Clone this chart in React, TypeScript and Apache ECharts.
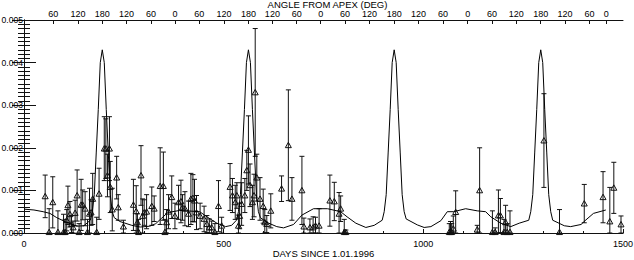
import { useEffect, useRef } from 'react';
import * as echarts from 'echarts';

// Bottom axis (days)
const xMin = 0;
const xMax = 1500;
const xInterval = 500;
// Left axis
const yMin = 0;
const yMax = 0.005;
const yInterval = 0.001;

// Top axis: angle from apex, tick positions in days and their labels
const topTickDays = [73, 135, 196, 257, 318, 378, 439, 501, 562, 622, 683, 743, 804, 865, 927, 988, 1049, 1111, 1172, 1233, 1294, 1355, 1416, 1458];
const topTickLabels = ['60', '120', '180', '120', '60', '0', '60', '120', '180', '120', '60', '0', '60', '120', '180', '120', '60', '0', '60', '120', '180', '120', '60', '0'];

// Model curve
const modelDays = [
  0, 25, 48, 65, 82, 107, 132, 150,
  166, 171, 176, 181, 186, 191, 196, 201, 206, 211, 216, 221, 226,
  240, 270, 291, 315, 330, 345, 360, 390, 440, 458, 483, 505, 520,
  532, 537, 542, 547, 552, 557, 562, 567, 572, 577, 582, 587, 592,
  608, 633, 650, 675, 696, 725, 760, 793, 809, 831, 856, 877,
  897, 902, 907, 912, 917, 922, 927, 932, 937, 942, 947, 952, 957,
  985, 1002, 1019, 1044, 1060, 1076, 1106, 1135, 1156, 1169, 1194, 1219, 1240,
  1264, 1269, 1274, 1279, 1284, 1289, 1294, 1299, 1304, 1309, 1314, 1319, 1324,
  1353, 1369, 1395, 1405, 1426, 1457,
];
const modelValues = [
  0.00056, 0.00054, 0.0005, 0.00046, 0.00036, 0.00025, 0.00016, 0.00017,
  0.0003, 0.0005, 0.0009, 0.0019, 0.0029, 0.004, 0.0043, 0.004, 0.0029, 0.0019, 0.0009, 0.0005, 0.00036,
  0.00027, 0.00018, 0.00014, 0.00016, 0.00022, 0.00035, 0.00048, 0.00053, 0.0005, 0.00038, 0.00023, 0.00015, 0.00018,
  0.0003, 0.0005, 0.0009, 0.0019, 0.0029, 0.004, 0.0043, 0.004, 0.0029, 0.0019, 0.0009, 0.0005, 0.00036,
  0.00025, 0.00015, 0.00012, 0.0002, 0.00042, 0.00057, 0.00057, 0.0005, 0.00038, 0.00023, 0.00013, 0.00018,
  0.0003, 0.0005, 0.0009, 0.0019, 0.0029, 0.004, 0.0043, 0.004, 0.0029, 0.0019, 0.0009, 0.0005, 0.00033,
  0.00019, 0.00013, 0.00015, 0.00029, 0.0005, 0.0005, 0.00057, 0.00052, 0.0005, 0.00038, 0.00023, 0.00015, 0.00023,
  0.0003, 0.0005, 0.0009, 0.0019, 0.0029, 0.004, 0.0043, 0.004, 0.0029, 0.0019, 0.0009, 0.0005, 0.0003,
  0.00017, 0.00015, 0.0002, 0.00029, 0.00046, 0.00054,
];

// Observations with error bars
const obsDays = [
  53, 63, 72, 85, 99, 103, 107, 110, 115, 119, 123, 128, 133, 138, 143, 147, 153, 159, 164, 168,
  172, 182, 188, 201, 205, 209, 214, 216, 221, 232, 236, 249, 274, 281, 284, 287, 293, 297, 301, 307,
  320, 326, 341, 349, 353, 357, 362, 370, 378, 387, 393, 397, 403, 412, 418, 423, 427, 432, 441, 451,
  458, 464, 470, 478, 487, 495, 516, 522, 529, 533, 537, 540, 545, 553, 558, 562, 566, 572, 576, 579,
  583, 591, 599, 603, 608, 618, 645, 662, 671, 696, 701, 716, 724, 730, 739, 766, 777, 789, 793, 802,
  806, 1065, 1068, 1071, 1075, 1081, 1135, 1141, 1173, 1180, 1188, 1193, 1202, 1206, 1210, 1217, 1302, 1341, 1403, 1450,
  1467, 1477, 1495,
];
const obsValues = [
  0.00086, 0.00002, 0.00072, 0.00002, 0.00002, 0.00002, 0.0003, 0.00065, 0.00044, 0.00021, 0.00013, 0.00047, 0.00088, 0.00002, 0.00066, 0.00066, 0.00057, 0.00002, 0.00045, 0.00048,
  0.0008, 0.00002, 0.00092, 0.00198, 0.00198, 0.00135, 0.00198, 0.00108, 0.00055, 0.0013, 0.0006, 0.00015, 0.00066, 0.00051, 0.00025, 0.00002, 0.00135, 0.0004, 0.00048, 0.0005,
  0.00063, 0.00057, 0.0011, 0.0011, 0.00002, 0.00025, 0.0005, 0.00084, 0.0004, 0.00072, 0.00074, 0.0006, 0.00057, 0.00045, 0.0008, 0.00082, 0.00076, 0.00048, 0.0004, 0.00033,
  0.00021, 0.00013, 0.00013, 0.00002, 0.00063, 0.00017, 0.00108, 0.00088, 0.00072, 0.00088, 0.00017, 0.0004, 0.00068, 0.00088, 0.00147, 0.00195, 0.00112, 0.00072, 0.00088, 0.0033,
  0.0013, 0.0008, 0.00063, 0.00025, 0.00021, 0.00052, 0.00104, 0.00206, 0.0008, 0.001, 0.00015, 0.00013, 0.00013, 0.00017, 0.00017, 0.00076, 0.00074, 0.00045, 0.00057, 0.00002,
  0.00002, 0.00002, 0.00002, 0.00002, 0.0001, 0.00049, 0.00008, 0.001, 0.00002, 0.00002, 0.00041, 0.00041, 0.00002, 0.00025, 0.00002, 0.00002, 0.00217, 0.00002, 0.00069, 0.00084,
  0.00027, 0.00106, 0.0002,
];
const obsErrors = [
  0.0005, 0.00055, 0.0006, 0.0005, 0.00042, 0.0003, 0.00025, 0.00045, 0.0003, 0.0002, 0.00015, 0.0003, 0.0006, 0.0002, 0.0006, 0.00035, 0.0004, 0.0003, 0.0006, 0.0003,
  0.0006, 0.00035, 0.0006, 0.00075, 0.0007, 0.0005, 0.00075, 0.0006, 0.0005, 0.0005, 0.0003, 0.00015, 0.0006, 0.0006, 0.0002, 0.0003, 0.0007, 0.0004, 0.0003, 0.0004,
  0.00045, 0.0003, 0.0009, 0.0008, 0.0003, 0.0003, 0.0004, 0.0005, 0.0003, 0.0004, 0.0005, 0.0003, 0.0004, 0.0003, 0.0006, 0.00055, 0.0005, 0.0004, 0.0003, 0.0003,
  0.0002, 0.0002, 0.00015, 0.0002, 0.0006, 0.0002, 0.00055, 0.0004, 0.0004, 0.0003, 0.00025, 0.0003, 0.0005, 0.0004, 0.00047, 0.0008, 0.0005, 0.0004, 0.0005, 0.0015,
  0.00055, 0.0005, 0.0004, 0.0003, 0.0002, 0.0004, 0.0003, 0.0013, 0.0005, 0.0008, 0.0002, 0.0002, 0.00025, 0.0002, 0.0004, 0.0006, 0.00045, 0.0005, 0.0003, 0.0003,
  0.00005, 0.0002, 0.00025, 0.0002, 0.0003, 0.0005, 0.0001, 0.001, 0.0005, 0.0001, 0.0006, 0.0004, 0.0003, 0.0004, 0.0002, 0.0005, 0.0011, 0.00053, 0.00045, 0.0006,
  0.0008, 0.0006, 0.0002,
];

const FONT = 'Liberation Sans';
const INK = '#111';

export default function App() {
  const ref = useRef<HTMLDivElement>(null);
  useEffect(() => {
    document.body.style.margin = '0';
    const chart = echarts.init(ref.current!, null, { renderer: 'svg' });
    const axisText = { color: '#000', fontFamily: FONT, fontSize: 9 };
    chart.setOption({
      animation: false,
      backgroundColor: '#fff',
      grid: { left: 24, right: 11, top: 20, bottom: 27, containLabel: false, outerBoundsMode: 'none' },
      xAxis: [
        {
          type: 'value', position: 'bottom', min: xMin, max: xMax, interval: xInterval,
          name: 'DAYS SINCE 1.01.1996', nameLocation: 'middle', nameGap: 15, nameMoveOverlap: false,
          nameTextStyle: { color: '#000', fontFamily: FONT, fontSize: 9.5 },
          axisLine: { show: true, lineStyle: { color: INK, width: 1 } },
          axisTick: { show: true, inside: true, length: 4, lineStyle: { color: INK } },
          minorTick: { show: true, splitNumber: 5, length: 2, lineStyle: { color: INK } },
          axisLabel: { ...axisText, margin: 6, formatter: (v: number) => String(v) },
          splitLine: { show: false },
        },
        {
          type: 'value', position: 'top', min: xMin, max: xMax,
          name: 'ANGLE FROM APEX (DEG)', nameLocation: 'middle', nameGap: 11, nameMoveOverlap: false,
          nameTextStyle: { color: '#000', fontFamily: FONT, fontSize: 9.5, lineHeight: 9, padding: [0, 0, 0, 8] },
          axisLine: { show: true, onZero: false, lineStyle: { color: INK, width: 1 } },
          axisTick: { show: true, inside: true, length: 4, customValues: topTickDays, lineStyle: { color: INK } },
          axisLabel: {
            ...axisText, lineHeight: 8.5, margin: 2, customValues: topTickDays,
            formatter: (val: number) => {
              const i = topTickDays.indexOf(Math.round(val));
              return i >= 0 ? topTickLabels[i] : '';
            },
          },
          splitLine: { show: false },
        },
      ],
      yAxis: [
        {
          type: 'value', position: 'left', min: yMin, max: yMax, interval: yInterval,
          axisLine: { show: true, lineStyle: { color: INK, width: 1 } },
          axisTick: { show: true, inside: true, length: 12, lineStyle: { color: INK } },
          minorTick: { show: true, splitNumber: 10, length: 6, lineStyle: { color: INK } },
          axisLabel: { ...axisText, fontSize: 8.6, margin: 1, formatter: (v: number) => v.toFixed(3) },
          splitLine: { show: false },
        },
        {
          type: 'value', position: 'right', min: yMin, max: yMax, interval: yInterval,
          axisLine: { show: true, lineStyle: { color: INK, width: 1 } },
          axisTick: { show: true, inside: true, length: 12, lineStyle: { color: INK } },
          minorTick: { show: true, splitNumber: 10, length: 6, lineStyle: { color: INK } },
          axisLabel: { show: false },
          splitLine: { show: false },
        },
      ],
      series: [
        {
          type: 'custom',
          xAxisIndex: 0,
          yAxisIndex: 0,
          clip: false,
          data: obsDays.map((d, i) => [d, obsValues[i], obsErrors[i]]),
          encode: { x: 0, y: 1 },
          renderItem: (_params: any, api: any) => {
            const d = api.value(0);
            const v = api.value(1);
            const e = api.value(2);
            const c = api.coord([d, v]);
            const t = api.coord([d, v + e]);
            const b = api.coord([d, Math.max(0, v - e)]);
            const cap = 2.5;
            const s = 3;
            const st = { stroke: INK, lineWidth: 1 };
            return {
              type: 'group',
              children: [
                { type: 'line', shape: { x1: c[0], y1: t[1], x2: c[0], y2: b[1] }, style: st },
                { type: 'line', shape: { x1: c[0] - cap, y1: t[1], x2: c[0] + cap, y2: t[1] }, style: st },
                { type: 'line', shape: { x1: c[0] - cap, y1: b[1], x2: c[0] + cap, y2: b[1] }, style: st },
                {
                  type: 'polygon',
                  shape: { points: [[c[0], c[1] - s], [c[0] - s, c[1] + s * 0.8], [c[0] + s, c[1] + s * 0.8]] },
                  style: { fill: 'none', stroke: INK, lineWidth: 1 },
                },
              ],
            };
          },
          z: 2,
        },
        {
          type: 'line',
          xAxisIndex: 0,
          yAxisIndex: 0,
          data: modelDays.map((d, i) => [d, modelValues[i]]),
          showSymbol: false,
          symbol: 'none',
          smooth: false,
          lineStyle: { color: '#000', width: 1 },
          z: 3,
        },
      ],
    });
    return () => chart.dispose();
  }, []);
  return <div ref={ref} style={{ position: 'absolute', left: 0, top: 0, width: 634, height: 260 }} />;
}
